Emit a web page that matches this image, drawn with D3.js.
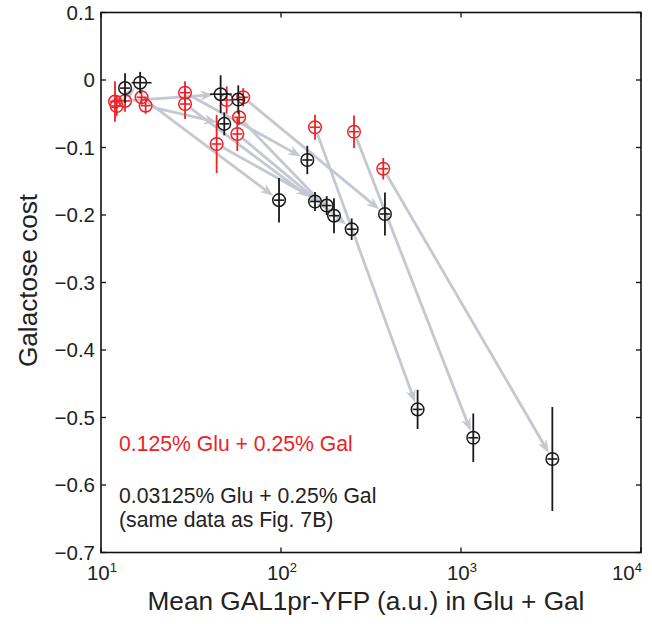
<!DOCTYPE html>
<html>
<head>
<meta charset="utf-8">
<script src="https://cdn.jsdelivr.net/npm/d3@7/dist/d3.min.js"></script>
<style>
  html, body { margin: 0; padding: 0; background: #fff; }
  svg { display: block; }
  text { font-family: "Liberation Sans", Arial, Helvetica, sans-serif; }
</style>
</head>
<body>
<svg id="chart" width="652" height="624"></svg>
<script>
// ---- Data ----
// 0.03125% Glu + 0.25% Gal (black)
const blackX   = [13.6, 16.5, 46.2, 48.4, 57.9, 140, 97.5, 154.5, 179.4, 197, 247, 378, 574, 1170, 3217];
const blackY   = [-0.012, -0.004, -0.021, -0.065, -0.029, -0.1185, -0.178, -0.180, -0.186, -0.201, -0.221, -0.1985, -0.488, -0.530, -0.5615];
const blackErr = [0.022, 0.016, 0.028, 0.017, 0.021, 0.021, 0.033, 0.014, 0.014, 0.026, 0.016, 0.032, 0.029, 0.036, 0.077];
const blackXLo = [null, 14.8, 40.3, null, null, null, null, null, null, null, null, null, null, null, null];
const blackXHi = [null, 19.1, 53.2, null, null, null, null, null, null, null, null, null, null, null, null];

// 0.125% Glu + 0.25% Gal (red)
const redX   = [11.96, 12.22, 13.6, 16.8, 17.7, 29.3, 29.3, 43.9, 49.9, 61.7, 58.5, 57.2, 154.5, 254.4, 370];
const redY   = [-0.032, -0.0385, -0.031, -0.0256, -0.038, -0.0188, -0.0356, -0.0948, -0.0296, -0.0256, -0.0553, -0.080, -0.070, -0.0766, -0.1314];
const redErr = [0.030, 0.015, 0.016, 0.011, 0.012, 0.017, 0.022, 0.043, 0.020, 0.0136, 0.011, 0.025, 0.0185, 0.024, 0.016];

// arrows: red point index -> black point index
const arrowFrom = [0, 1, 2, 3, 4, 5, 6, 7, 8, 9, 10, 11, 12, 13, 14];
const arrowTo   = [0, 1, 2, 6, 3, 5, 7, 8, 4, 11, 9, 10, 12, 13, 14];

const xTickExp = [1, 2, 3, 4];
const yTicks = [0.1, 0, -0.1, -0.2, -0.3, -0.4, -0.5, -0.6, -0.7];

const xTitle = "Mean GAL1pr-YFP (a.u.) in Glu + Gal";
const yTitle = "Galactose cost";
const legendRed = ["0.125% Glu + 0.25% Gal"];
const legendBlack = ["0.03125% Glu + 0.25% Gal", "(same data as Fig. 7B)"];

// ---- Layout ----
const L = 101, R = 641, T = 12.5, B = 552.5;
const RED = "#ec2227", BLK = "#1a1a1a", ARROW = "#c5c8d0";
const rMark = 6.3;

const svg = d3.select("#chart");
const x = d3.scaleLog().domain([10, 10000]).range([L, R]);
const y = d3.scaleLinear().domain([-0.7, 0.1]).range([B, T]);

const blackPts = blackX.map((v, i) => ({x: v, y: blackY[i], e: blackErr[i], xlo: blackXLo[i], xhi: blackXHi[i]}));
const redPts = redX.map((v, i) => ({x: v, y: redY[i], e: redErr[i], xlo: null, xhi: null}));

// ---- Arrows ----
const gA = svg.append("g");
arrowFrom.forEach((fi, k) => {
  const a = redPts[fi], b = blackPts[arrowTo[k]];
  const x1 = x(a.x), y1 = y(a.y), x2 = x(b.x), y2 = y(b.y);
  const dx = x2 - x1, dy = y2 - y1, len = Math.hypot(dx, dy);
  if (len < 2 * rMark + 4) return;
  const ux = dx / len, uy = dy / len;
  const sx = x1 + ux * (rMark + 1), sy = y1 + uy * (rMark + 1);
  const tx = x2 - ux * (rMark + 1), ty = y2 - uy * (rMark + 1);
  const hl = 13, hw = 5, notch = 4;
  const bx = tx - ux * hl, by = ty - uy * hl;
  const nx = -uy, ny = ux;
  const nbx = tx - ux * (hl - notch), nby = ty - uy * (hl - notch);
  gA.append("line")
    .attr("x1", sx).attr("y1", sy).attr("x2", nbx).attr("y2", nby)
    .attr("stroke", ARROW).attr("stroke-width", 2.8);
  gA.append("path")
    .attr("d", `M${tx},${ty} L${bx + nx * hw},${by + ny * hw} L${nbx},${nby} L${bx - nx * hw},${by - ny * hw} Z`)
    .attr("fill", ARROW);
});

// ---- Markers with error bars ----
function drawSeries(pts, color) {
  const g = svg.append("g").attr("stroke", color).attr("fill", "none").attr("stroke-width", 1.5);
  pts.forEach(p => {
    const cx = x(p.x), cy = y(p.y);
    g.append("line").attr("x1", cx).attr("x2", cx).attr("y1", y(p.y + p.e)).attr("y2", y(p.y - p.e)).attr("stroke-width", 1.8);
    const xl = p.xlo != null ? x(p.xlo) : cx - 5;
    const xr = p.xhi != null ? x(p.xhi) : cx + 5;
    g.append("line").attr("x1", xl).attr("x2", xr).attr("y1", cy).attr("y2", cy).attr("stroke-width", 1.6);
    g.append("circle").attr("cx", cx).attr("cy", cy).attr("r", rMark);
  });
}
drawSeries(redPts, RED);
drawSeries(blackPts, BLK);

// ---- Axes ----
const frame = svg.append("g");
frame.append("rect").attr("x", L).attr("y", T).attr("width", R - L).attr("height", B - T)
  .attr("fill", "none").attr("stroke", "#111").attr("stroke-width", 1.6);

const tickLen = 5;
const xTickVals = xTickExp.map(e => Math.pow(10, e));
const gx = svg.append("g");
xTickVals.forEach((v, i) => {
  const px = x(v);
  const last = i === xTickVals.length - 1;
  gx.append("line").attr("x1", px).attr("x2", px).attr("y1", B).attr("y2", B - tickLen).attr("stroke", "#111").attr("stroke-width", 1.3);
  gx.append("line").attr("x1", px).attr("x2", px).attr("y1", T).attr("y2", T + tickLen).attr("stroke", "#111").attr("stroke-width", 1.3);
  const t = gx.append("text").attr("x", last ? px + 1 : px + 1).attr("y", 580)
    .attr("text-anchor", last ? "end" : "middle")
    .attr("font-size", 20.5).attr("fill", "#222");
  t.append("tspan").text("10");
  t.append("tspan").attr("dy", -8).attr("font-size", 13).text(String(xTickExp[i]));
});

const gy = svg.append("g");
yTicks.forEach(v => {
  const py = y(v);
  gy.append("line").attr("x1", L).attr("x2", L + tickLen).attr("y1", py).attr("y2", py).attr("stroke", "#111").attr("stroke-width", 1.3);
  gy.append("line").attr("x1", R).attr("x2", R - tickLen).attr("y1", py).attr("y2", py).attr("stroke", "#111").attr("stroke-width", 1.3);
  gy.append("text").attr("x", 95).attr("y", py + 7).attr("text-anchor", "end")
    .attr("font-size", 20.5).attr("fill", "#222")
    .text(v === 0 ? "0" : d3.format(".1f")(v).replace("-", "\u2212"));
});

// ---- Titles ----
svg.append("text").attr("x", 366).attr("y", 610).attr("text-anchor", "middle")
  .attr("font-size", 26.2).attr("fill", "#222").text(xTitle);
svg.append("text").attr("transform", `translate(37,${(T + B) / 2 - 2}) rotate(-90)`).attr("text-anchor", "middle")
  .attr("font-size", 26.2).attr("fill", "#222").text(yTitle);

// ---- Legend text ----
legendRed.forEach((s, i) => {
  svg.append("text").attr("x", 119).attr("y", 451 + i * 24).attr("font-size", 21.2).attr("fill", RED).text(s);
});
legendBlack.forEach((s, i) => {
  svg.append("text").attr("x", 119).attr("y", 503 + i * 24).attr("font-size", 21.2).attr("fill", "#222").text(s);
});
</script>
</body>
</html>
